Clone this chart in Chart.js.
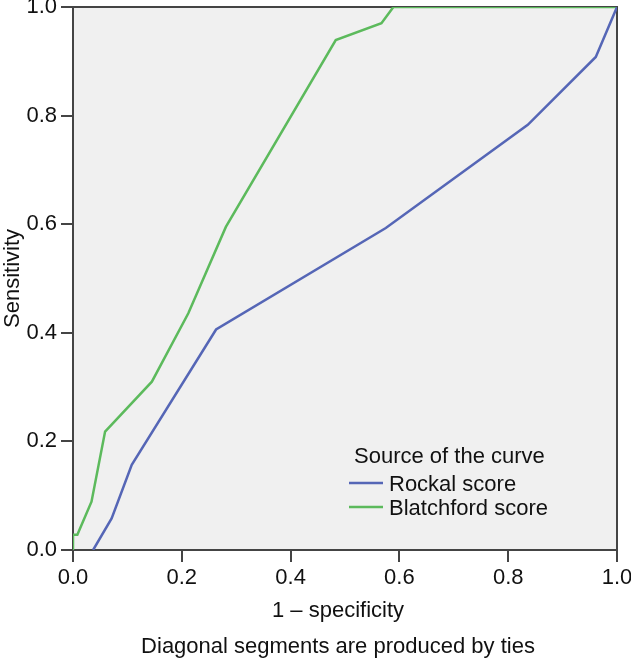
<!DOCTYPE html>
<html>
<head>
<meta charset="utf-8">
<script src="https://cdn.jsdelivr.net/npm/chart.js@4"></script>
<style>
  html, body { margin: 0; padding: 0; background: #ffffff; }
  #wrap { width: 631px; height: 662px; position: relative; }
</style>
</head>
<body>
<div id="wrap"><canvas id="c" width="631" height="662"></canvas></div>
<script>
// ---- Data ----
const rockalX = [0.037, 0.071, 0.108, 0.263, 0.575, 0.836, 0.961, 1.0];
const rockalY = [0.0, 0.058, 0.157, 0.406, 0.593, 0.783, 0.908, 1.0];
const blatchX = [0.0, 0.0, 0.008, 0.034, 0.059, 0.145, 0.212, 0.281, 0.483, 0.567, 0.589, 1.0];
const blatchY = [0.0, 0.028, 0.028, 0.089, 0.218, 0.31, 0.436, 0.595, 0.939, 0.970, 1.0, 1.0];
const seriesNames = ['Rockal score', 'Blatchford score'];
const tickValues = [0.0, 0.2, 0.4, 0.6, 0.8, 1.0];
const xTitle = '1 \u2013 specificity';
const yTitle = 'Sensitivity';
const legendTitle = 'Source of the curve';
const footnote = 'Diagonal segments are produced by ties';

const FONT = '"Liberation Sans", Arial, sans-serif';
const FS = 22;
const AXIS = '#444444';

function toPoints(xs, ys) { return xs.map((x, i) => ({ x: x, y: ys[i] })); }

const plotBg = {
  id: 'plotBg',
  beforeDraw(chart) {
    const { ctx, chartArea: a } = chart;
    ctx.save();
    ctx.fillStyle = '#f0f0f0';
    ctx.fillRect(a.left, a.top, a.right - a.left, a.bottom - a.top);
    ctx.restore();
  },
  beforeDatasetsDraw(chart) {
    const { ctx, chartArea: a } = chart;
    ctx.save();
    ctx.strokeStyle = AXIS;
    ctx.lineWidth = 2;
    ctx.beginPath();
    ctx.moveTo(a.left, a.top); ctx.lineTo(a.right, a.top); ctx.lineTo(a.right, a.bottom);
    ctx.stroke();
    ctx.restore();
  },
  afterDraw(chart) {
    const { ctx } = chart;
    ctx.save();
    // legend inside the plot
    ctx.fillStyle = '#111';
    ctx.font = FS + 'px ' + FONT;
    ctx.textBaseline = 'middle';
    ctx.textAlign = 'left';
    ctx.fillText(legendTitle, 354, 457);
    const rows = [483, 507];
    chart.data.datasets.forEach((ds, i) => {
      ctx.strokeStyle = ds.borderColor;
      ctx.lineWidth = 2.5;
      ctx.beginPath();
      ctx.moveTo(349, rows[i]); ctx.lineTo(383, rows[i]);
      ctx.stroke();
      ctx.fillStyle = '#111';
      ctx.fillText(ds.label, 389, rows[i] + 2);
    });
    // x axis title and footnote
    ctx.textAlign = 'center';
    ctx.fillText(xTitle, 338, 611);
    ctx.fillText(footnote, 338, 647);
    ctx.restore();
  }
};

new Chart(document.getElementById('c'), {
  type: 'scatter',
  data: {
    datasets: [
      { label: seriesNames[0], data: toPoints(rockalX, rockalY), showLine: true,
        borderColor: '#5566b6', borderWidth: 2.5, pointRadius: 0, tension: 0 },
      { label: seriesNames[1], data: toPoints(blatchX, blatchY), showLine: true,
        borderColor: '#5cba5c', borderWidth: 2.5, pointRadius: 0, tension: 0 }
    ]
  },
  options: {
    responsive: false,
    animation: false,
    devicePixelRatio: 1,
    layout: { padding: { left: 0, top: 7, right: 14, bottom: 36 } },
    plugins: { legend: { display: false }, tooltip: { enabled: false } },
    scales: {
      x: {
        type: 'linear', min: 0, max: 1,
        afterBuildTicks(s) { s.ticks = tickValues.map(v => ({ value: v })); },
        afterFit(s) { s.height = 76; s.paddingLeft = 0; s.paddingRight = 0; },
        ticks: { color: '#111', font: { family: FONT, size: FS }, padding: 3,
                 callback: v => Number(v).toFixed(1), maxRotation: 0, autoSkip: false },
        grid: { drawOnChartArea: false, drawTicks: true, tickLength: 12, color: AXIS, lineWidth: 2 },
        border: { display: true, color: AXIS, width: 2 },
        title: { display: false, text: xTitle }
      },
      y: {
        type: 'linear', min: 0, max: 1,
        afterBuildTicks(s) { s.ticks = tickValues.map(v => ({ value: v })); },
        afterFit(s) { s.width = 73; s.paddingTop = 0; s.paddingBottom = 0; },
        ticks: { color: '#111', font: { family: FONT, size: FS }, padding: 4,
                 callback: v => Number(v).toFixed(1), autoSkip: false },
        grid: { drawOnChartArea: false, drawTicks: true, tickLength: 12, color: AXIS, lineWidth: 2 },
        border: { display: true, color: AXIS, width: 2 },
        title: { display: true, text: yTitle, color: '#111', font: { family: FONT, size: FS }, padding: { top: 0, bottom: 0 } }
      }
    }
  },
  plugins: [plotBg]
});
</script>
</body>
</html>
